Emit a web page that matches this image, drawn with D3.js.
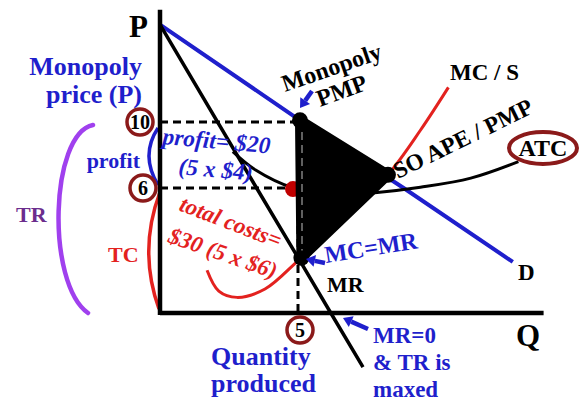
<!DOCTYPE html>
<html>
<head>
<meta charset="utf-8">
<script src="https://cdn.jsdelivr.net/npm/d3@7"></script>
<style>
  body { margin: 0; background: #fff; }
  text { font-family: "Liberation Serif", "Times New Roman", serif; font-weight: bold; }
</style>
</head>
<body>
<svg id="chart" width="587" height="401"></svg>
<script>
// curves as [Q, P] pairs
const demand = [[0, 15.9], [5, 10.1], [8.7, 6], [12.6, 2.45]];
const mr = [[0, 15.9], [3.45, 6], [5, 2.5], [6.1, 0], [7.25, -2.6]];
const mc = [[1.68, 2.05], [2.1, 1.05], [2.75, 0.75], [3.75, 1.15], [5, 2.6], [6.6, 4.55], [8.14, 6.8], [9.3, 9.5], [10.3, 12.1]];
const atc = [[2.6, 8.2], [3.4, 7.1], [4.75, 6], [6.1, 5.65], [7.5, 5.75], [9.3, 6.05], [11.1, 6.6], [12.8, 7.6]];
const dwl = [[5, 10.1], [8.14, 6.8], [5.05, 2.65]];
const priceTicks = [10, 6];
const quantityTicks = [5];
const monopolyPrice = 10, avgCost = 6, monopolyQ = 5;

const blue = "#1f1fcc", red = "#e3221f", darkRed = "#8b1a1a", purple = "#a040ee";

const svg = d3.select("#chart");
const x = d3.scaleLinear().domain([0, 12]).range([160, 496]);
const y = d3.scaleLinear().domain([0, 6, 16]).range([313, 188, 23]);

const line = d3.line().x(d => x(d[0])).y(d => y(d[1]));
const smooth = d3.line().x(d => x(d[0])).y(d => y(d[1])).curve(d3.curveCatmullRom);

// dashed guides
svg.append("line")
  .attr("x1", x(0)).attr("x2", x(monopolyQ)).attr("y1", y(monopolyPrice)).attr("y2", y(monopolyPrice))
  .attr("stroke", "#000").attr("stroke-width", 3).attr("stroke-dasharray", "8,5");
svg.append("line")
  .attr("x1", x(0)).attr("x2", x(4.75)).attr("y1", y(avgCost)).attr("y2", y(avgCost))
  .attr("stroke", "#000").attr("stroke-width", 3).attr("stroke-dasharray", "8,5");

// brackets
svg.append("path")
  .attr("d", `M${x(0) - 2},${y(10) + 6} Q${x(0) - 20},${(y(10) + y(6)) / 2} ${x(0) - 2},${y(6) - 3}`)
  .attr("fill", "none").attr("stroke", blue).attr("stroke-width", 3.5);
svg.append("path")
  .attr("d", `M${x(0)},${y(6) + 4} Q${x(0) - 22},${(y(6) + y(0)) / 2} ${x(0) - 1},${y(0) - 4}`)
  .attr("fill", "none").attr("stroke", red).attr("stroke-width", 3.5);
svg.append("path")
  .attr("d", `M93,${y(10) + 3} C50,${y(10) + 12} 46,${y(0) - 30} 88,${y(0)}`)
  .attr("fill", "none").attr("stroke", purple).attr("stroke-width", 4.5).attr("stroke-linecap", "round");

// curves
svg.append("path").datum(demand).attr("d", line)
  .attr("fill", "none").attr("stroke", blue).attr("stroke-width", 4);
svg.append("path").datum(mr).attr("d", line)
  .attr("fill", "none").attr("stroke", "#000").attr("stroke-width", 3.5);
svg.append("path").datum(mc).attr("d", smooth)
  .attr("fill", "none").attr("stroke", red).attr("stroke-width", 3);
svg.append("path").datum(atc).attr("d", smooth)
  .attr("fill", "none").attr("stroke", "#000").attr("stroke-width", 3);

// red dot at ATC = 6
svg.append("circle").attr("cx", x(4.75)).attr("cy", y(5.95)).attr("r", 8).attr("fill", "#c00000");

// black triangle
svg.append("path").datum(dwl).attr("d", d => line(d) + "Z")
  .attr("fill", "#000").attr("stroke", "#000").attr("stroke-width", 10).attr("stroke-linejoin", "round");
svg.selectAll("circle.vtx").data(dwl).join("circle").attr("class", "vtx")
  .attr("cx", d => x(d[0])).attr("cy", d => y(d[1])).attr("r", 8).attr("fill", "#000");

svg.append("line")
  .attr("x1", x(monopolyQ) - 2).attr("x2", x(monopolyQ) - 2).attr("y1", y(monopolyPrice)).attr("y2", y(0))
  .attr("stroke", "#000").attr("stroke-width", 3).attr("stroke-dasharray", "8,5");
svg.append("line")
  .attr("x1", x(monopolyQ) + 2).attr("x2", x(monopolyQ) + 2).attr("y1", y(monopolyPrice) + 10).attr("y2", y(3))
  .attr("stroke", "#fff").attr("stroke-width", 1.5).attr("stroke-dasharray", "8,5").attr("opacity", 0.5);

// axes
svg.append("line").attr("x1", x(0)).attr("x2", x(0)).attr("y1", y(16.8)).attr("y2", y(0) + 2)
  .attr("stroke", "#000").attr("stroke-width", 4.5);
svg.append("line").attr("x1", x(0)).attr("x2", x(13.7)).attr("y1", y(0)).attr("y2", y(0))
  .attr("stroke", "#000").attr("stroke-width", 4.5);

// circled tick labels
const pTick = svg.selectAll("g.ptick").data(priceTicks).join("g").attr("class", "ptick")
  .attr("transform", (d, i) => `translate(${i ? 143 : 140},${y(d)})`);
pTick.append("circle").attr("r", 13).attr("fill", "#fff").attr("stroke", darkRed).attr("stroke-width", 3.5);
pTick.append("text").attr("text-anchor", "middle").attr("dy", "0.35em").attr("font-size", 20).text(d => d);

const qTick = svg.selectAll("g.qtick").data(quantityTicks).join("g").attr("class", "qtick")
  .attr("transform", d => `translate(${x(d)},${y(0) + 17})`);
qTick.append("circle").attr("r", 13).attr("fill", "#fff").attr("stroke", darkRed).attr("stroke-width", 3.5);
qTick.append("text").attr("text-anchor", "middle").attr("dy", "0.35em").attr("font-size", 20).text(d => d);

// ATC ellipse
svg.append("ellipse").attr("cx", 543).attr("cy", 148).attr("rx", 34).attr("ry", 16)
  .attr("fill", "#fff").attr("stroke", darkRed).attr("stroke-width", 4);

// arrows
function arrow(x1, y1, x2, y2) {
  const a = Math.atan2(y2 - y1, x2 - x1);
  const hx = x2 - 9 * Math.cos(a), hy = y2 - 9 * Math.sin(a);
  svg.append("line").attr("x1", x1).attr("y1", y1).attr("x2", hx).attr("y2", hy)
    .attr("stroke", blue).attr("stroke-width", 4.5);
  const p = [[x2, y2],
    [hx + 6 * Math.sin(a), hy - 6 * Math.cos(a)],
    [hx - 6 * Math.sin(a), hy + 6 * Math.cos(a)]];
  svg.append("polygon").attr("points", p.map(q => q.join(",")).join(" ")).attr("fill", blue);
}
arrow(312, 91, 300, 108);
arrow(325, 263, 306, 259);
arrow(368, 329, 343, 318);

// labels
function label(t, px, py, size, color, opts = {}) {
  const el = svg.append("text").attr("x", px).attr("y", py).attr("font-size", size)
    .attr("fill", color).text(t);
  if (opts.anchor) el.attr("text-anchor", opts.anchor);
  if (opts.italic) el.attr("font-style", "italic");
  if (opts.rotate) el.attr("transform", `rotate(${opts.rotate},${px},${py})`);
  return el;
}
label("P", 129, 37, 31, "#000");
label("Q", 516, 346, 31, "#000");
label("Monopoly", 142, 75, 26, blue, { anchor: "end" });
label("price (P)", 142, 103, 26, blue, { anchor: "end" });
label("profit", 140, 168, 22, blue, { anchor: "end" });
label("TR", 16, 222, 22, "#6b2d8d");
label("TC", 108, 262, 22, red);
label("profit= $20", 162, 144, 23.5, blue, { italic: true, rotate: 5 });
label("(5 x $4)", 178, 174, 23.5, blue, { italic: true, rotate: 5 });
label("total costs=", 178, 210, 23, red, { italic: true, rotate: 21 });
label("$30 (5 x $6)", 167, 242, 23, red, { italic: true, rotate: 19 });
label("Monopoly", 285, 92, 24, "#000", { rotate: -19 });
label("PMP", 320, 107, 24, "#000", { rotate: -20 });
label("MC / S", 450, 80, 23, "#000");
label("SO APE / PMP", 398, 179, 23.5, "#000", { rotate: -26 });
label("ATC", 543, 156, 24, "#000", { anchor: "middle" });
label("MC=MR", 326, 263, 24, blue, { rotate: -9 });
label("MR", 327, 292, 22, "#000");
label("D", 518, 280, 23, "#000");
label("MR=0", 373, 343, 23, blue);
label("& TR is", 373, 370, 23, blue);
label("maxed", 373, 397, 23, blue);
label("Quantity", 211, 365, 26, blue);
label("produced", 211, 392, 26, blue);
</script>
</body>
</html>
